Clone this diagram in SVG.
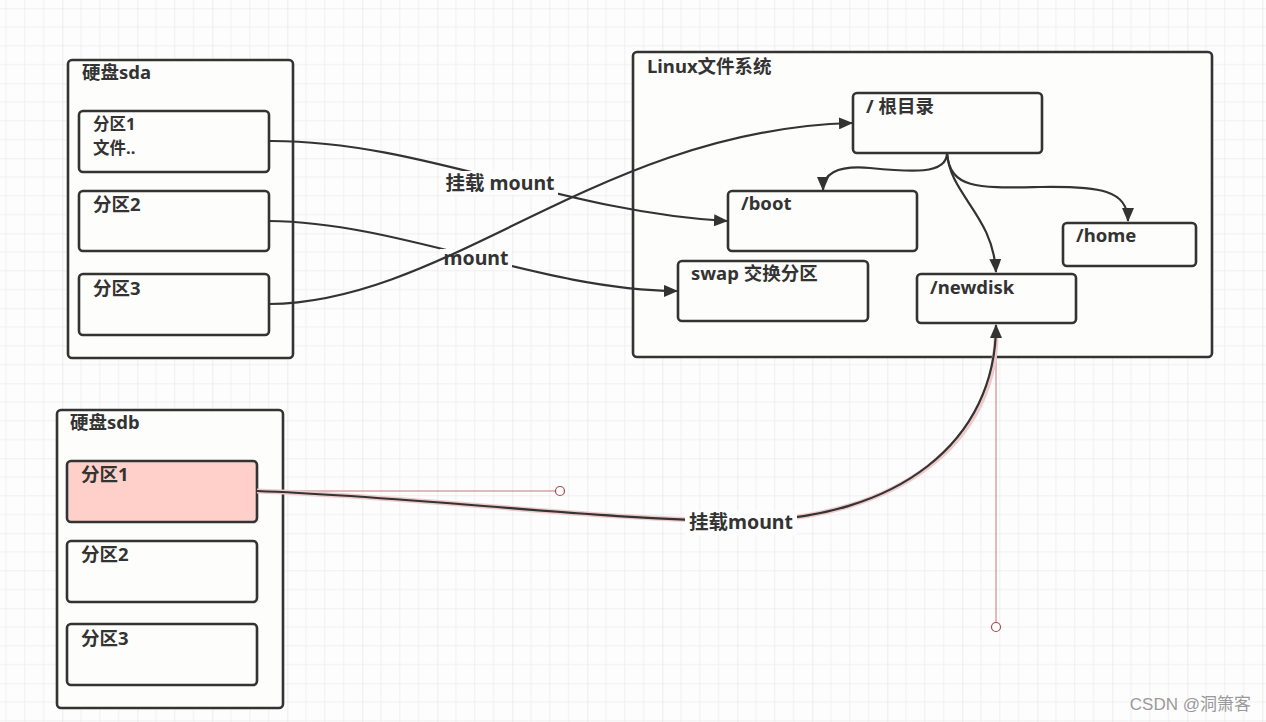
<svg xmlns="http://www.w3.org/2000/svg" width="1266" height="722" viewBox="0 0 1266 722">
<style>
.box{fill:#fdfdfb;stroke:#333;stroke-width:2.6}
.t{font-family:"Noto Sans","Noto Sans CJK SC",sans-serif;font-weight:bold;font-size:18.5px;fill:#333}
.el{font-family:"Noto Sans","Noto Sans CJK SC",sans-serif;font-weight:bold;font-size:19.5px;fill:#333;text-anchor:middle}
.e{fill:none;stroke:#333;stroke-width:2.2}
.lbg{fill:#fdfdfd}
.h{stroke:#c47878;stroke-width:1;fill:none}
.hc{fill:#fff;stroke:#a84848;stroke-width:1.2}
</style>
<defs>
<pattern id="grid" patternUnits="userSpaceOnUse" x="-12.7" y="8.3" width="75" height="75">
<path d="M18.75,0V75M37.5,0V75M56.25,0V75M0,18.75H75M0,37.5H75M0,56.25H75" stroke="#f0f0f0" stroke-width="1" fill="none"/>
<path d="M0,0V75M0,0H75" stroke="#e3e3e3" stroke-width="1.2" fill="none"/>
</pattern>
<marker id="arr" markerUnits="userSpaceOnUse" viewBox="0 0 14 12" markerWidth="14" markerHeight="12" refX="13" refY="6" orient="auto">
<path d="M0,0L14,6L0,12z" fill="#333"/>
</marker>
</defs>
<rect width="1266" height="722" fill="#fdfdfd"/>
<rect width="1266" height="722" fill="url(#grid)"/>

<g id="sda">
<rect class="box" x="68" y="60" width="225" height="298" rx="4"/>
<text class="t" x="82" y="79">硬盘sda</text>
</g>
<g id="sda-p1">
<rect class="box" x="79" y="111" width="190" height="61" rx="4"/>
<text class="t" x="93" y="130" style="font-size:16.5px">分区1</text>
<text class="t" x="93" y="154" style="font-size:16.5px">文件..</text>
</g>
<g id="sda-p2">
<rect class="box" x="79" y="191" width="190" height="60" rx="4"/>
<text class="t" x="93" y="211">分区2</text>
</g>
<g id="sda-p3">
<rect class="box" x="79" y="274" width="190" height="61" rx="4"/>
<text class="t" x="93" y="295">分区3</text>
</g>

<g id="sdb">
<rect class="box" x="57" y="410" width="226" height="298" rx="4"/>
<text class="t" x="70" y="429">硬盘sdb</text>
</g>
<g id="sdb-p1">
<rect class="box" x="67" y="461" width="190" height="61" rx="4" style="fill:#ffd0c9"/>
<text class="t" x="81" y="481">分区1</text>
</g>
<g id="sdb-p2">
<rect class="box" x="67" y="541" width="190" height="61" rx="4"/>
<text class="t" x="81" y="561">分区2</text>
</g>
<g id="sdb-p3">
<rect class="box" x="67" y="624" width="190" height="61" rx="4"/>
<text class="t" x="81" y="645">分区3</text>
</g>

<g id="linux">
<rect class="box" x="633" y="52" width="579" height="305" rx="4"/>
<text class="t" x="647" y="73">Linux文件系统</text>
</g>
<g id="root">
<rect class="box" x="853" y="93" width="189" height="60" rx="4"/>
<text class="t" x="866" y="113">/ 根目录</text>
</g>
<g id="boot">
<rect class="box" x="728" y="191" width="189" height="60" rx="4"/>
<text class="t" x="741" y="210">/boot</text>
</g>
<g id="swap">
<rect class="box" x="678" y="261" width="190" height="60" rx="4"/>
<text class="t" x="691" y="280">swap 交换分区</text>
</g>
<g id="newdisk">
<rect class="box" x="917" y="274" width="159" height="49" rx="4"/>
<text class="t" x="930" y="294">/newdisk</text>
</g>
<g id="home">
<rect class="box" x="1063" y="223" width="133" height="43" rx="4"/>
<text class="t" x="1076" y="242">/home</text>
</g>

<g id="connectors">
<path class="e" d="M269,141 C420,140 560,212 727,221" marker-end="url(#arr)"/>
<rect class="lbg" x="442" y="171" width="116" height="24"/>
<text class="el" x="500" y="190">挂载 mount</text>
<path class="e" d="M269,221 C400,222 540,290 677,291" marker-end="url(#arr)"/>
<rect class="lbg" x="440" y="249" width="72" height="20"/>
<text class="el" x="476" y="265">mount</text>
<path class="e" d="M269,304 C450,302 600,130 852,123" marker-end="url(#arr)"/>
<path class="e" d="M947,153 C947,175 910,172 870,168 C835,165 823,175 823,190" marker-end="url(#arr)"/>
<path class="e" d="M947,153 C950,195 993,215 996,272" marker-end="url(#arr)"/>
<path class="e" d="M947,153 C950,190 980,188 1040,187 C1100,186 1128,190 1128,221" marker-end="url(#arr)"/>
<line class="h" x1="257" y1="491" x2="555.5" y2="491"/>
<line class="h" x1="996" y1="330" x2="996" y2="622.5"/>
<circle class="hc" cx="560" cy="491" r="4.5"/>
<circle class="hc" cx="996" cy="627" r="4.5"/>
<path d="M257,491 C420,497 600,520 741,521 C900,520 996,440 996,334" fill="none" stroke="#efcaca" stroke-width="5"/>
<path class="e" d="M257,491 C420,497 600,520 741,521 C900,520 996,440 996,325" stroke-width="2.6" marker-end="url(#arr)"/>
<rect class="lbg" x="685" y="511" width="112" height="24"/>
<text class="el" x="741" y="529">挂载mount</text>
</g>

<text x="1251" y="710" text-anchor="end" font-family="'Liberation Sans','Noto Sans CJK SC',sans-serif" font-size="17" fill="#9a9a9a">CSDN @洞箫客</text>
</svg>
